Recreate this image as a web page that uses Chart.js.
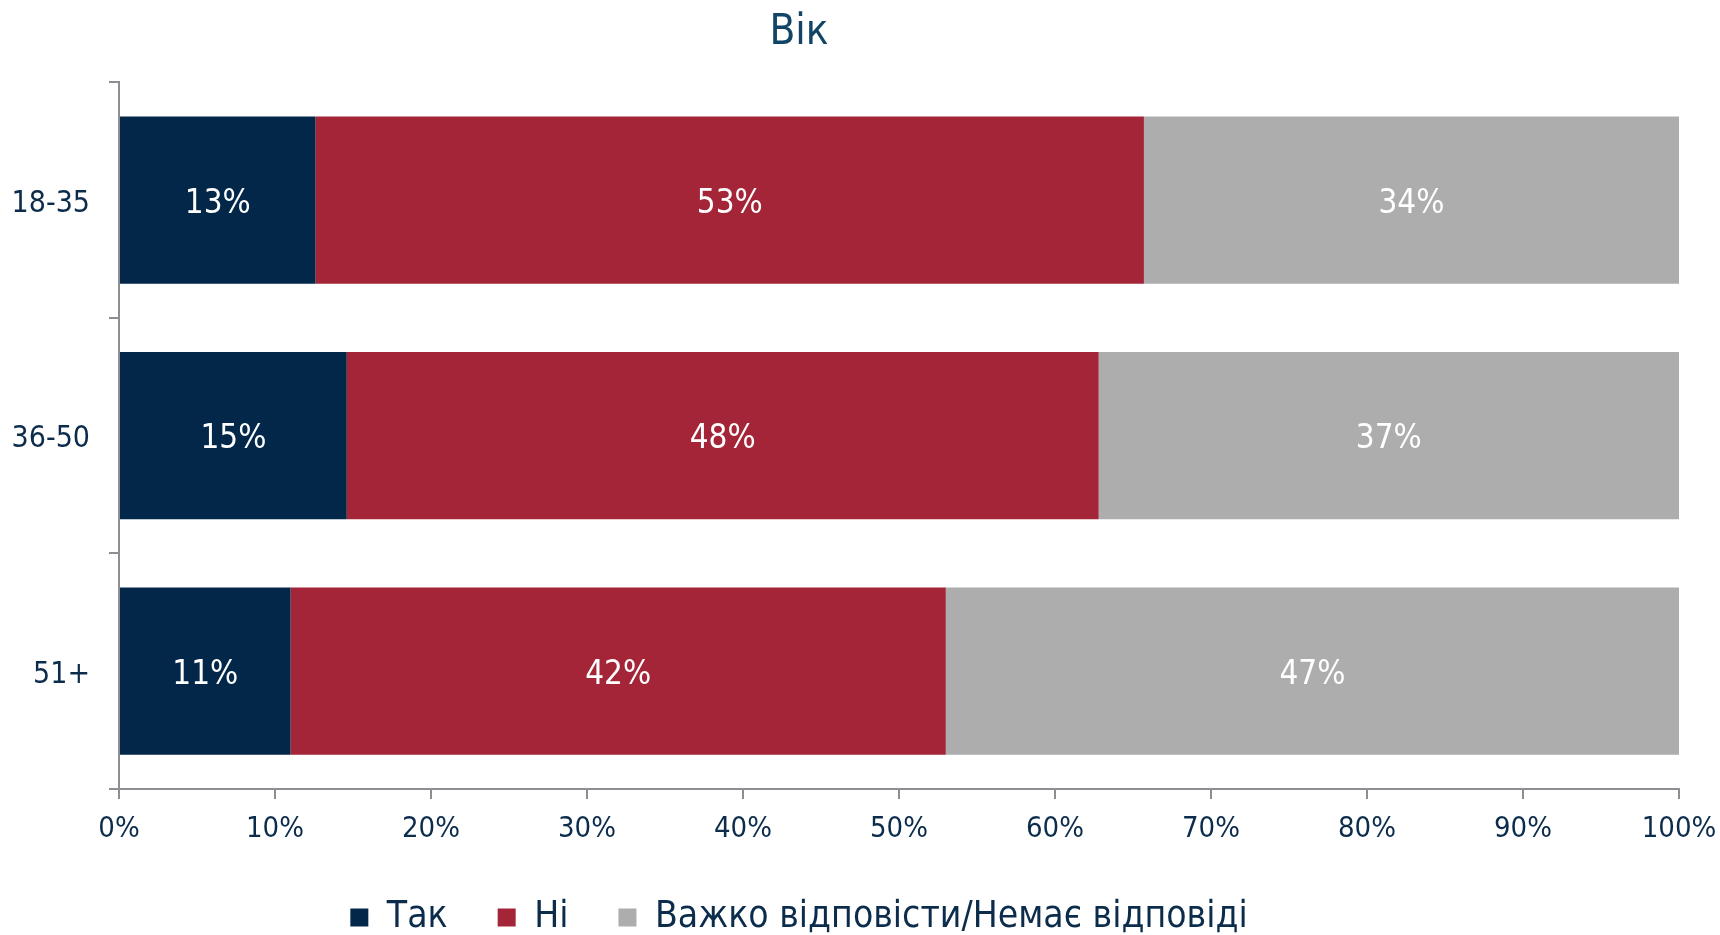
<!DOCTYPE html>
<html>
<head>
<meta charset="utf-8">
<script src="https://cdn.jsdelivr.net/npm/chart.js@4"></script>
<style>
    html, body { margin: 0; padding: 0; background: #fff; overflow: hidden; }
    #wrap { position: absolute; left: -81px; top: 0; width: 1820px; height: 946px; }
</style>
</head>
<body>
<div id="wrap"><canvas id="chart"></canvas></div>
<script>
// Chart data
const ageGroups = ['18-35', '36-50', '51+'];
const seriesNames = ['Так', 'Ні', 'Важко відповісти/Немає відповіді'];
const yesValues = [12.6, 14.6, 11.0];
const noValues = [53.1, 48.2, 42.0];
const hardValues = [34.3, 37.2, 47.0];
const xTicks = [0, 10, 20, 30, 40, 50, 60, 70, 80, 90, 100];

const FONT = "'DejaVu Sans Condensed', 'DejaVu Sans', sans-serif";
const AXIS_GRAY = '#8c8e94';
const TEXT_NAVY = '#0c2c4c';

Chart.defaults.font.family = FONT;
Chart.defaults.color = TEXT_NAVY;

// draw the rounded percentages in the middle of each bar
const barLabels = {
    id: 'barLabels',
    afterDatasetsDraw(chart) {
        const ctx = chart.ctx;
        ctx.save();
        ctx.fillStyle = '#ffffff';
        ctx.font = '33px ' + FONT;
        ctx.textAlign = 'center';
        ctx.textBaseline = 'middle';
        chart.data.datasets.forEach((ds, i) => {
            chart.getDatasetMeta(i).data.forEach((bar, j) => {
                const p = bar.getCenterPoint();
                ctx.fillText(Math.round(ds.data[j]) + '%', p.x, p.y + 4);
            });
        });
        ctx.restore();
    }
};

new Chart(document.getElementById('chart'), {
    type: 'bar',
    data: {
        labels: ageGroups,
        datasets: [
            { label: seriesNames[0], data: yesValues, backgroundColor: '#022749' },
            { label: seriesNames[1], data: noValues, backgroundColor: '#a32537' },
            { label: seriesNames[2], data: hardValues, backgroundColor: '#adadae' }
        ]
    },
    options: {
        indexAxis: 'y',
        responsive: true,
        maintainAspectRatio: false,
        animation: false,
        devicePixelRatio: 1,
        barPercentage: 0.71,
        categoryPercentage: 1,
        layout: { padding: { left: 0, right: 60, top: 0, bottom: 0 } },
        scales: {
            x: {
                stacked: true,
                min: 0,
                max: 100,
                afterBuildTicks: s => { s.ticks = xTicks.map(v => ({ value: v })); },
                afterFit: s => { s.height = 60; },
                ticks: {
                    padding: 13,
                    font: { size: 29 },
                    color: TEXT_NAVY,
                    callback: v => v + '%'
                },
                grid: { drawOnChartArea: false, drawTicks: true, tickLength: 10, color: AXIS_GRAY, lineWidth: 2 },
                border: { color: AXIS_GRAY, width: 2 }
            },
            y: {
                stacked: true,
                afterFit: s => { s.width = 200; },
                ticks: { padding: 19, labelOffset: 4, font: { size: 30 }, color: TEXT_NAVY },
                grid: { drawOnChartArea: false, drawTicks: true, tickLength: 10, color: AXIS_GRAY, lineWidth: 2 },
                border: { color: AXIS_GRAY, width: 2 }
            }
        },
        plugins: {
            title: {
                display: true,
                text: 'Вік',
                color: '#124466',
                font: { size: 42, weight: 'normal' },
                padding: { top: 8, bottom: 24 }
            },
            legend: {
                position: 'bottom',
                labels: {
                    font: { size: 37 },
                    color: TEXT_NAVY,
                    boxWidth: 18,
                    boxHeight: 18,
                    padding: 50
                }
            },
            tooltip: { enabled: false }
        }
    },
    plugins: [barLabels]
});
</script>
</body>
</html>
